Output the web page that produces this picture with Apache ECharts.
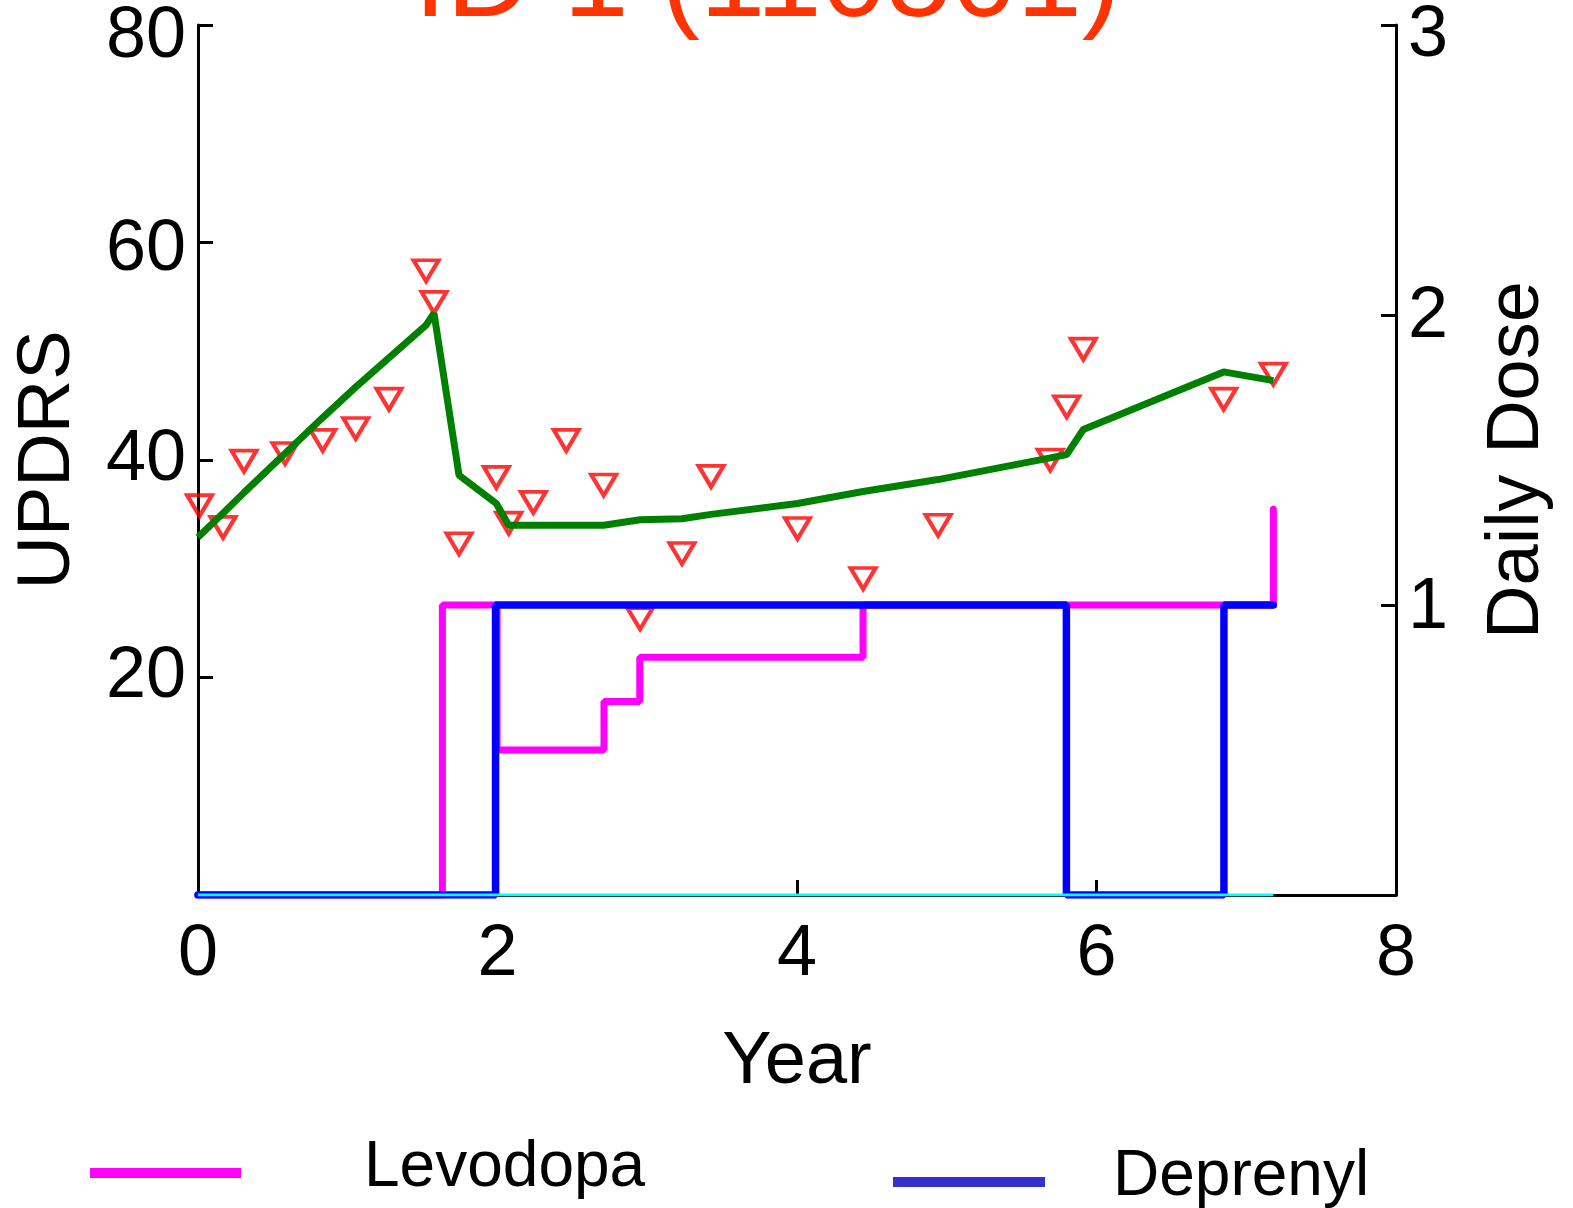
<!DOCTYPE html>
<html>
<head>
<meta charset="utf-8">
<script src="https://cdn.jsdelivr.net/npm/echarts@6/dist/echarts.min.js"></script>
<style>
html,body{margin:0;padding:0;background:#fff;}
#chart{width:1573px;height:1208px;}
</style>
</head>
<body>
<div id="chart"></div>
<script>
// ---- data ----
const titleText = 'ID 1 (110501)';
const xTicks = [0, 2, 4, 6, 8];
const visitYears = [0.010, 0.167, 0.307, 0.581, 0.833, 1.053, 1.275, 1.523, 1.576, 1.743, 1.992, 2.075, 2.239, 2.459, 2.709, 2.952, 3.232, 3.426, 4.003, 4.441, 4.942, 5.691, 5.801, 5.912, 6.849, 7.181];
const updrsObserved = [35.8, 33.8, 39.9, 40.6, 41.8, 42.9, 45.6, 57.4, 54.5, 32.3, 38.4, 34.2, 36.1, 41.8, 37.7, 25.4, 31.4, 38.5, 33.7, 29.1, 34.0, 40.0, 44.9, 50.2, 45.6, 47.9];
const fitYears = [0.0, 0.167, 0.307, 0.581, 0.833, 1.053, 1.275, 1.523, 1.576, 1.743, 1.992, 2.075, 2.239, 2.459, 2.709, 2.952, 3.232, 3.426, 4.003, 4.441, 4.942, 5.691, 5.801, 5.912, 6.849, 7.181];
const updrsFitted = [32.9, 35.1, 37.0, 40.6, 43.9, 46.7, 49.4, 52.4, 53.5, 38.6, 36.0, 34.0, 34.0, 34.0, 34.0, 34.5, 34.6, 35.0, 36.0, 37.1, 38.2, 40.2, 40.5, 42.8, 48.1, 47.3];
const levodopaYears = [0, 1.632, 1.632, 1.997, 1.997, 2.711, 2.711, 2.950, 2.950, 4.441, 4.441, 7.181, 7.181];
const levodopaDose = [0, 0, 1, 1, 0.5, 0.5, 0.667, 0.667, 0.82, 0.82, 1, 1, 1.33];
const deprenylYears = [0, 1.987, 1.987, 5.799, 5.799, 6.851, 6.851, 7.181];
const deprenylDose = [0, 0, 1, 1, 0, 0, 1, 1];
const otherYears = [0, 7.181];
const otherDose = [0, 0];

const zip = (xs, ys) => xs.map((x, i) => [x, ys[i]]);
const FONT = 'Liberation Sans, Arial, Helvetica, sans-serif';
const lbl = {fontSize: 72, color: '#000', fontFamily: FONT};

const chart = echarts.init(document.getElementById('chart'), null, {renderer: 'canvas'});
const axisCommon = {
  axisLine: {show: true, lineStyle: {color: '#000', width: 3}},
  axisTick: {show: true, inside: true, length: 15, lineStyle: {color: '#000', width: 3}},
  splitLine: {show: false},
  nameTextStyle: {fontSize: 74, color: '#000', fontFamily: FONT},
  axisLabel: Object.assign({}, lbl)
};
chart.setOption({
  animation: false,
  backgroundColor: '#fff',
  textStyle: {fontFamily: FONT},
  title: {
    text: titleText,
    left: 414, top: -75,
    padding: 0,
    textStyle: {fontSize: 117, lineHeight: 117, fontWeight: 'normal', color: '#FF3300', fontFamily: FONT}
  },
  grid: {left: 198, right: 177, top: 25, bottom: 313, containLabel: false, outerBoundsMode: 'none'},
  legend: [
    {
      left: 90, top: 1136, padding: 0, selectedMode: false,
      icon: 'path://M0,0 L0.01,0 L0,0.01 Z M0,15 L151,15 L151,25 L0,25 Z M0,30 L0.01,30 L0,29.99 Z',
      itemWidth: 151, itemHeight: 30,
      data: [{name: 'Levodopa', itemStyle: {color: '#FF00FF'}}],
      textStyle: {fontSize: 64, lineHeight: 64, color: '#000', fontFamily: FONT, padding: [0, 0, 0, 118]}
    },
    {
      left: 893, top: 1145, padding: 0, selectedMode: false,
      icon: 'path://M0,0 L0.01,0 L0,0.01 Z M0,10 L152,10 L152,20 L0,20 Z',
      itemWidth: 152, itemHeight: 20,
      data: [{name: 'Deprenyl', itemStyle: {color: '#3333CC'}}],
      textStyle: {fontSize: 64, lineHeight: 64, color: '#000', fontFamily: FONT, padding: [0, 0, 0, 63]}
    }
  ],
  xAxis: Object.assign({}, axisCommon, {
    type: 'value', min: xTicks[0], max: xTicks[xTicks.length - 1], interval: 2,
    name: 'Year', nameLocation: 'middle', nameGap: 131,
    axisLabel: Object.assign({}, lbl, {margin: 24})
  }),
  yAxis: [
    Object.assign({}, axisCommon, {
      type: 'value', min: 0, max: 80, interval: 20, position: 'left',
      name: 'UPDRS', nameLocation: 'middle', nameGap: 112,
      axisLabel: Object.assign({}, lbl, {
        margin: 12, showMinLabel: false,
        formatter: v => '{s' + v + '|' + v + '}',
        rich: {
          s20: Object.assign({}, lbl),
          s40: Object.assign({}, lbl),
          s60: Object.assign({padding: [16, 0, 0, 0]}, lbl),
          s80: Object.assign({padding: [24, 0, 0, 0]}, lbl)
        }
      })
    }),
    Object.assign({}, axisCommon, {
      type: 'value', min: 0, max: 3, interval: 1, position: 'right',
      name: 'Daily Dose', nameLocation: 'middle', nameGap: 85,
      axisLabel: Object.assign({}, lbl, {
        margin: 12, showMinLabel: false,
        formatter: v => '{d' + v + '|' + v + '}',
        rich: {
          d1: Object.assign({padding: [6, 0, 0, 0]}, lbl),
          d2: Object.assign({padding: [4, 0, 0, 0]}, lbl),
          d3: Object.assign({padding: [22, 0, 0, 0]}, lbl)
        }
      })
    })
  ],
  series: [
    {
      name: 'UPDRS observed', type: 'scatter', yAxisIndex: 0, z: 1,
      symbol: 'triangle', symbolRotate: 180, symbolSize: [25, 21],
      itemStyle: {color: 'rgba(255,255,255,0)', borderColor: '#FF0000', borderWidth: 4},
      data: zip(visitYears, updrsObserved)
    },
    {
      name: 'UPDRS fitted', type: 'line', yAxisIndex: 0, z: 2,
      showSymbol: false, symbol: 'none',
      lineStyle: {color: '#008000', width: 7},
      data: zip(fitYears, updrsFitted)
    },
    {
      name: 'Levodopa', type: 'line', yAxisIndex: 1, z: 3,
      showSymbol: false, symbol: 'none', color: '#FF00FF',
      lineStyle: {color: '#FF00FF', width: 7, cap: 'round'},
      data: zip(levodopaYears, levodopaDose)
    },
    {
      name: 'Deprenyl', type: 'line', yAxisIndex: 1, z: 4,
      showSymbol: false, symbol: 'none', color: '#0000FF',
      lineStyle: {color: '#0000FF', width: 7.5, cap: 'round'},
      data: zip(deprenylYears, deprenylDose)
    },
    {
      name: 'Other', type: 'line', yAxisIndex: 1, z: 5,
      showSymbol: false, symbol: 'none', color: '#00FFFF',
      lineStyle: {color: '#00FFFF', width: 3},
      data: zip(otherYears, otherDose)
    }
  ]
});
</script>
</body>
</html>
